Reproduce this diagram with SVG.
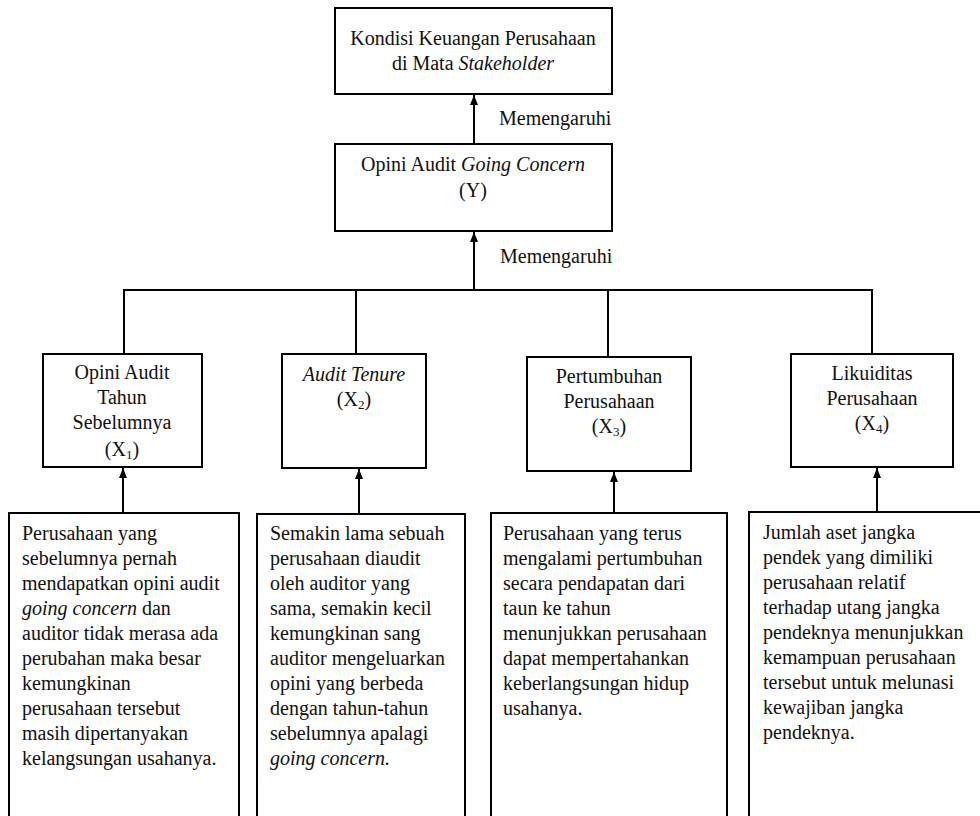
<svg xmlns="http://www.w3.org/2000/svg" width="980" height="816" viewBox="0 0 980 816" font-family="'Liberation Serif', Tinos, 'Times New Roman', 'DejaVu Serif', serif">
<style>
.box{fill:#fff;stroke:#000;stroke-width:2}
.ln{fill:none;stroke:#000;stroke-width:2}
text{font-size:20px;fill:#111}
.c{text-anchor:middle}
.i{font-style:italic}
.sub{font-size:13px}
</style>
<defs>
<marker id="ah" markerUnits="userSpaceOnUse" markerWidth="10" markerHeight="8" refX="10" refY="4" orient="auto">
<path d="M0,0 L10,4 L0,8 z" fill="#000"/>
</marker>
</defs>
<rect width="980" height="816" fill="#fff"/>

<g id="connectors">
<line class="ln" x1="474" y1="144" x2="474" y2="95" marker-end="url(#ah)"/>
<line class="ln" x1="474" y1="290" x2="474" y2="232" marker-end="url(#ah)"/>
<polyline class="ln" points="124,354 124,290 872,290 872,354"/>
<line class="ln" x1="356" y1="290" x2="356" y2="354"/>
<line class="ln" x1="608" y1="290" x2="608" y2="357"/>
<line class="ln" x1="123" y1="513" x2="123" y2="468" marker-end="url(#ah)"/>
<line class="ln" x1="359" y1="514" x2="359" y2="469" marker-end="url(#ah)"/>
<line class="ln" x1="614" y1="513" x2="614" y2="472" marker-end="url(#ah)"/>
<line class="ln" x1="877" y1="512" x2="877" y2="468" marker-end="url(#ah)"/>
<text x="499" y="125">Memengaruhi</text>
<text x="500" y="263">Memengaruhi</text>
</g>

<g id="kondisi">
<rect class="box" x="335" y="8" width="277" height="86"/>
<text class="c" x="473" y="45">Kondisi Keuangan Perusahaan</text>
<text class="c" x="473" y="70">di Mata <tspan class="i">Stakeholder</tspan></text>
</g>

<g id="opini-y">
<rect class="box" x="335" y="144" width="277" height="87"/>
<text class="c" x="473" y="171">Opini Audit <tspan class="i">Going Concern</tspan></text>
<text class="c" x="473" y="197">(Y)</text>
</g>

<g id="x1">
<rect class="box" x="43" y="354" width="159" height="113"/>
<text class="c" x="122" y="379">Opini Audit</text>
<text class="c" x="122" y="404">Tahun</text>
<text class="c" x="122" y="429">Sebelumnya</text>
<text class="c" x="122" y="456">(X<tspan class="sub" dy="3">1</tspan><tspan dy="-3">)</tspan></text>
</g>

<g id="x2">
<rect class="box" x="282" y="354" width="144" height="114"/>
<text class="c i" x="354" y="381">Audit Tenure</text>
<text class="c" x="354" y="406">(X<tspan class="sub" dy="3">2</tspan><tspan dy="-3">)</tspan></text>
</g>

<g id="x3">
<rect class="box" x="527" y="357" width="164" height="114"/>
<text class="c" x="609" y="383">Pertumbuhan</text>
<text class="c" x="609" y="408">Perusahaan</text>
<text class="c" x="609" y="433">(X<tspan class="sub" dy="3">3</tspan><tspan dy="-3">)</tspan></text>
</g>

<g id="x4">
<rect class="box" x="791" y="354" width="162" height="113"/>
<text class="c" x="872" y="380">Likuiditas</text>
<text class="c" x="872" y="405">Perusahaan</text>
<text class="c" x="872" y="430">(X<tspan class="sub" dy="3">4</tspan><tspan dy="-3">)</tspan></text>
</g>

<g id="desc1">
<rect class="box" x="9" y="513" width="230" height="310"/>
<text x="22" y="540">Perusahaan yang</text>
<text x="22" y="565">sebelumnya pernah</text>
<text x="22" y="590">mendapatkan opini audit</text>
<text x="22" y="615"><tspan class="i">going concern</tspan> dan</text>
<text x="22" y="640">auditor tidak merasa ada</text>
<text x="22" y="665">perubahan maka besar</text>
<text x="22" y="690">kemungkinan</text>
<text x="22" y="715">perusahaan tersebut</text>
<text x="22" y="740">masih dipertanyakan</text>
<text x="22" y="765">kelangsungan usahanya.</text>
</g>

<g id="desc2">
<rect class="box" x="257" y="514" width="208" height="310"/>
<text x="270" y="540">Semakin lama sebuah</text>
<text x="270" y="565">perusahaan diaudit</text>
<text x="270" y="590">oleh auditor yang</text>
<text x="270" y="615">sama, semakin kecil</text>
<text x="270" y="640">kemungkinan sang</text>
<text x="270" y="665">auditor mengeluarkan</text>
<text x="270" y="690">opini yang berbeda</text>
<text x="270" y="715">dengan tahun-tahun</text>
<text x="270" y="740">sebelumnya apalagi</text>
<text class="i" x="270" y="765">going concern.</text>
</g>

<g id="desc3">
<rect class="box" x="491" y="513" width="236" height="310"/>
<text x="503" y="540">Perusahaan yang terus</text>
<text x="503" y="565">mengalami pertumbuhan</text>
<text x="503" y="590">secara pendapatan dari</text>
<text x="503" y="615">taun ke tahun</text>
<text x="503" y="640">menunjukkan perusahaan</text>
<text x="503" y="665">dapat mempertahankan</text>
<text x="503" y="690">keberlangsungan hidup</text>
<text x="503" y="715">usahanya.</text>
</g>

<g id="desc4">
<rect class="box" x="749" y="512" width="250" height="310"/>
<text x="763" y="539">Jumlah aset jangka</text>
<text x="763" y="564">pendek yang dimiliki</text>
<text x="763" y="589">perusahaan relatif</text>
<text x="763" y="614">terhadap utang jangka</text>
<text x="763" y="639">pendeknya menunjukkan</text>
<text x="763" y="664">kemampuan perusahaan</text>
<text x="763" y="689">tersebut untuk melunasi</text>
<text x="763" y="714">kewajiban jangka</text>
<text x="763" y="739">pendeknya.</text>
</g>
</svg>
